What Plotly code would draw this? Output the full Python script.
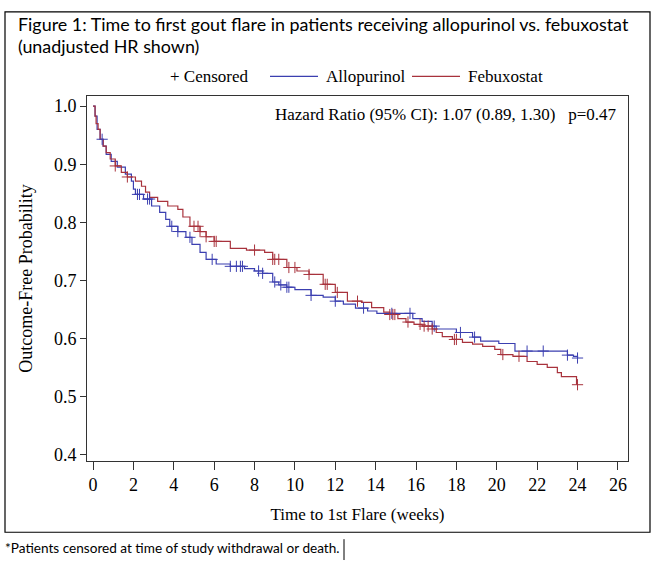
import plotly.graph_objects as go

# Allopurinol Kaplan-Meier step estimates (time in weeks, survival after step)
allo_t = [0, 0.1, 0.2, 0.35, 0.5, 0.65, 0.9, 1.2, 1.6, 1.9, 2.0, 2.1, 2.5, 2.9, 3.3, 3.6, 3.8,
          4.2, 4.6, 4.9, 5.3, 5.6, 6.1, 6.8, 7.5, 8.0, 8.4, 8.9, 9.2, 9.6, 10.0, 10.8, 11.4,
          12.0, 12.4, 13.0, 13.6, 14.06, 15.84, 16.3, 16.8, 17.0, 18.0, 18.8, 19.2, 20.1,
          20.9, 23.5, 23.8, 24.0]
allo_s = [1.0, 0.983, 0.96, 0.943, 0.931, 0.917, 0.905, 0.895, 0.883, 0.871, 0.857, 0.848,
          0.84, 0.828, 0.817, 0.805, 0.793, 0.784, 0.774, 0.762, 0.748, 0.736, 0.728, 0.724,
          0.72, 0.716, 0.712, 0.697, 0.692, 0.688, 0.684, 0.674, 0.671, 0.664, 0.659, 0.652,
          0.647, 0.643, 0.634, 0.629, 0.621, 0.616, 0.61, 0.602, 0.595, 0.591, 0.578, 0.571,
          0.569, 0.566]
allo_cens = [0.45, 2.2, 2.3, 2.7, 2.8, 3.9, 4.2, 4.8, 5.9, 6.8, 7.1, 7.3, 7.4, 8.2, 8.4,
             9.0, 9.3, 9.6, 9.7, 10.8, 12.0, 13.4, 14.8, 15.7, 16.9, 18.2, 18.9, 21.5, 22.3,
             23.5, 24.0]

# Febuxostat Kaplan-Meier step estimates
febu_t = [0, 0.1, 0.15, 0.25, 0.35, 0.5, 0.65, 0.85, 1.1, 1.4, 1.7, 2.1, 2.4, 2.6, 2.8, 3.2,
          3.7, 4.2, 4.45, 4.8, 5.3, 5.6, 6.0, 6.8, 7.6, 8.5, 8.9, 9.6, 10.1, 10.7, 11.4, 12.0,
          12.6, 13.3, 13.8, 14.4, 14.7, 15.1, 15.5, 15.9, 16.3, 16.8, 17.0, 17.3, 17.8, 18.3,
          18.8, 19.3, 19.9, 20.2, 20.8, 21.5, 22.0, 22.5, 23.0, 23.2, 23.95]
febu_s = [1.0, 0.983, 0.97, 0.96, 0.943, 0.931, 0.92, 0.909, 0.897, 0.886, 0.878, 0.871,
          0.862, 0.852, 0.843, 0.836, 0.828, 0.822, 0.809, 0.793, 0.784, 0.775, 0.767, 0.755,
          0.752, 0.748, 0.736, 0.722, 0.716, 0.71, 0.693, 0.679, 0.664, 0.662, 0.653, 0.645,
          0.641, 0.634, 0.628, 0.624, 0.621, 0.616, 0.61, 0.603, 0.598, 0.593, 0.59, 0.586,
          0.581, 0.572, 0.569, 0.56, 0.555, 0.55, 0.541, 0.534, 0.52]
febu_cens = [1.1, 1.7, 5.0, 5.2, 5.3, 5.6, 6.0, 6.1, 8.0, 8.9, 9.0, 9.2, 9.7, 10.0, 10.7,
             11.5, 11.6, 12.1, 13.1, 14.7, 14.85, 14.95, 15.6, 16.2, 16.4, 16.6, 16.8, 17.9,
             18.0, 20.3, 21.1, 24.0]

x_ticks = list(range(0, 27, 2))
y_ticks = [0.4, 0.5, 0.6, 0.7, 0.8, 0.9, 1.0]

BLUE = "#3b3fb0"
RED = "#a8323c"
SERIF = "Liberation Serif"
W, H = 657, 568


def step_at(ts, ss, t):
    val = ss[0]
    for ti, si in zip(ts, ss):
        if ti <= t:
            val = si
    return val


def px(x):
    return x / W


def py(y):
    return (H - y) / H


fig = go.Figure()

fig.add_trace(go.Scatter(
    x=allo_t, y=allo_s, mode="lines", name="Allopurinol", showlegend=False,
    line=dict(color=BLUE, width=1.2, shape="hv"),
))
fig.add_trace(go.Scatter(
    x=febu_t, y=febu_s, mode="lines", name="Febuxostat", showlegend=False,
    line=dict(color=RED, width=1.2, shape="hv"),
))
fig.add_trace(go.Scatter(
    x=allo_cens, y=[step_at(allo_t, allo_s, t) for t in allo_cens], mode="markers",
    showlegend=False, name="Censored",
    marker=dict(symbol="cross-thin", size=8, color=BLUE, line=dict(width=1, color=BLUE)),
))
fig.add_trace(go.Scatter(
    x=febu_cens, y=[step_at(febu_t, febu_s, t) for t in febu_cens], mode="markers",
    showlegend=False, name="Censored",
    marker=dict(symbol="cross-thin", size=8, color=RED, line=dict(width=1, color=RED)),
))

legend_y = 77
shapes = [
    dict(type="rect", xref="paper", yref="paper", x0=px(5), x1=px(650),
         y0=py(536), y1=py(12), line=dict(color="black", width=1.2),
         fillcolor="rgba(0,0,0,0)"),
    dict(type="line", xref="paper", yref="paper", x0=px(270), x1=px(318),
         y0=py(legend_y), y1=py(legend_y), line=dict(color=BLUE, width=1.3)),
    dict(type="line", xref="paper", yref="paper", x0=px(412), x1=px(460),
         y0=py(legend_y), y1=py(legend_y), line=dict(color=RED, width=1.3)),
    # text cursor after the footnote
    dict(type="line", xref="paper", yref="paper", x0=px(344), x1=px(344),
         y0=py(543), y1=py(564), line=dict(color="black", width=1)),
]

annotations = [
    dict(text="Figure 1: Time to first gout flare in patients receiving allopurinol vs. febuxostat",
         xref="paper", yref="paper", x=px(16), y=py(24), xanchor="left",
         yanchor="middle", showarrow=False, font=dict(family="Lato", size=17.9)),
    dict(text="(unadjusted HR shown)",
         xref="paper", yref="paper", x=px(16), y=py(46), xanchor="left",
         yanchor="middle", showarrow=False, font=dict(family="Lato", size=17.9)),
    dict(text="+ Censored", xref="paper", yref="paper", x=px(168), y=py(legend_y),
         xanchor="left", yanchor="middle", showarrow=False, font=dict(family=SERIF, size=17)),
    dict(text="Allopurinol", xref="paper", yref="paper", x=px(324), y=py(legend_y),
         xanchor="left", yanchor="middle", showarrow=False, font=dict(family=SERIF, size=17)),
    dict(text="Febuxostat", xref="paper", yref="paper", x=px(466), y=py(legend_y),
         xanchor="left", yanchor="middle", showarrow=False, font=dict(family=SERIF, size=17)),
    dict(text="Hazard Ratio (95% CI): 1.07 (0.89, 1.30)   p=0.47",
         xref="paper", yref="paper", x=px(619), y=py(115), xanchor="right",
         yanchor="middle", showarrow=False, font=dict(family=SERIF, size=17)),
    dict(text="*Patients censored at time of study withdrawal or death.",
         xref="paper", yref="paper", x=px(3), y=py(552), xanchor="left",
         yanchor="middle", showarrow=False, font=dict(family="Lato", size=13.6)),
]

fig.update_layout(
    width=W, height=H,
    margin=dict(l=0, r=0, t=0, b=0),
    paper_bgcolor="white", plot_bgcolor="white",
    font=dict(family=SERIF, size=17, color="black"),
    showlegend=False,
    xaxis=dict(domain=[px(87), px(628)], range=[-0.3, 26.5], tickvals=x_ticks,
               ticks="outside", ticklen=8, tickcolor="#333", showline=True, linecolor="#333",
               mirror=True, showgrid=False, zeroline=False,
               tickfont=dict(family=SERIF, size=18),
               title=dict(text="Time to 1st Flare (weeks)", font=dict(family=SERIF, size=17),
                          standoff=13)),
    yaxis=dict(domain=[py(464), py(97)], range=[0.389, 1.017],
               tickvals=y_ticks, tickformat=".1f",
               ticks="outside", ticklen=6, tickcolor="#333", showline=True, linecolor="#333",
               mirror=True, showgrid=False, zeroline=False,
               tickfont=dict(family=SERIF, size=18),
               title=dict(text="Outcome-Free Probability", font=dict(family=SERIF, size=18),
                          standoff=16)),
    shapes=shapes,
    annotations=annotations,
)

fig.write_html("out.html", post_script="document.body.style.margin='0';",
               config={"displayModeBar": False})
